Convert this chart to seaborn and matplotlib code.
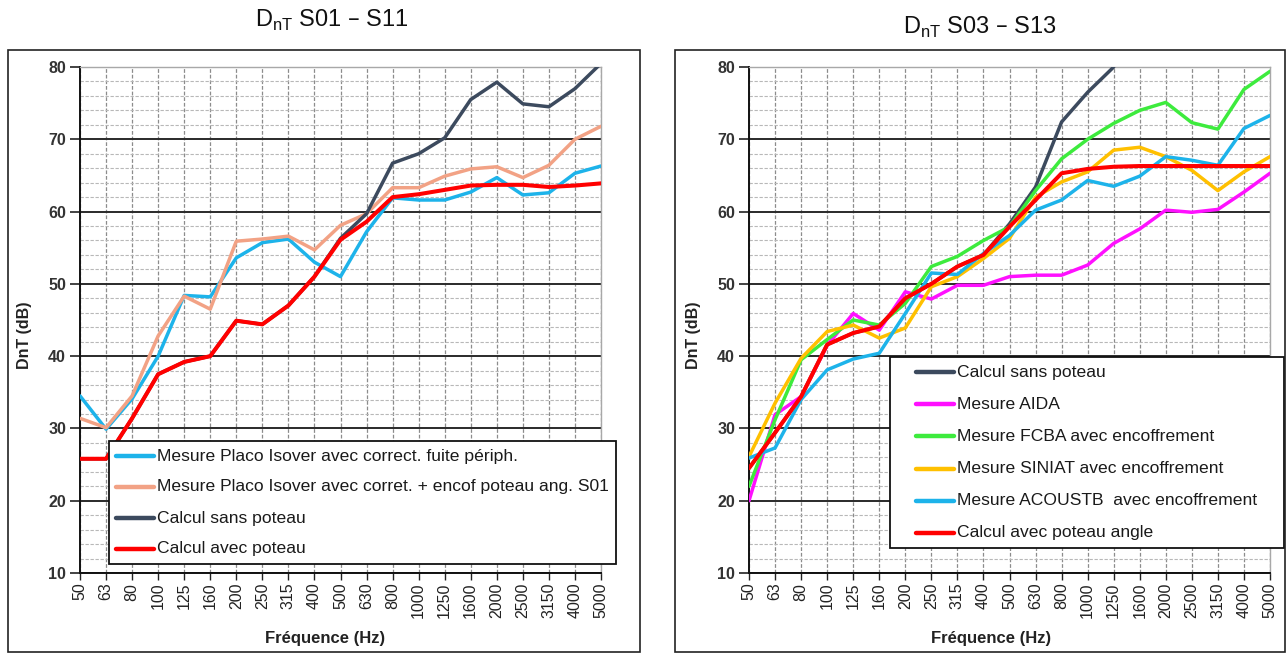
import numpy as np
import pandas as pd
import matplotlib
matplotlib.use("Agg")
import matplotlib.pyplot as plt
from matplotlib.patches import Rectangle
from matplotlib.lines import Line2D
from matplotlib.ticker import MultipleLocator
import seaborn as sns

# Third-octave band centre frequencies (Hz)
frequencies = ["50", "63", "80", "100", "125", "160", "200", "250", "315", "400", "500",
               "630", "800", "1000", "1250", "1600", "2000", "2500", "3150", "4000", "5000"]

# --- S01 - S11 ---------------------------------------------------------------
s01_placo_fuite = [34.5, 29.9, 34.1, 40.0, 48.4, 48.2, 53.6, 55.7, 56.2, 53.0, 51.0,
                   57.2, 61.9, 61.6, 61.6, 62.7, 64.7, 62.3, 62.6, 65.3, 66.3]
s01_placo_encof = [31.4, 30.1, 34.5, 42.8, 48.3, 46.5, 55.9, 56.2, 56.6, 54.7, 58.1,
                   59.7, 63.3, 63.3, 64.9, 65.9, 66.2, 64.7, 66.4, 70.0, 71.8]
s01_sans_poteau = [25.8, 25.8, 31.4, 37.5, 39.2, 40.0, 44.9, 44.4, 47.0, 51.0, 56.3,
                   59.7, 66.7, 68.0, 70.2, 75.5, 77.9, 74.9, 74.5, 77.0, 80.5]
s01_avec_poteau = [25.8, 25.8, 31.4, 37.5, 39.2, 40.0, 44.9, 44.4, 47.0, 51.0, 56.1,
                   58.6, 62.0, 62.4, 63.0, 63.6, 63.7, 63.7, 63.4, 63.6, 63.9]

s01_labels = ["Mesure Placo Isover avec correct. fuite périph.",
              "Mesure Placo Isover avec corret. + encof poteau ang. S01",
              "Calcul sans poteau",
              "Calcul avec poteau"]

# --- S03 - S13 ---------------------------------------------------------------
s03_sans_poteau = [24.5, 29.4, 34.4, 41.6, 43.2, 44.1, 48.0, 50.0, 52.4, 54.0, 58.3,
                   63.4, 72.4, 76.5, 80.0, np.nan, np.nan, np.nan, np.nan, np.nan, np.nan]
s03_aida = [20.0, 31.9, 34.4, 41.5, 45.9, 43.6, 48.9, 47.9, 49.8, 49.8, 51.0,
            51.2, 51.2, 52.6, 55.6, 57.6, 60.2, 59.9, 60.3, 62.7, 65.3]
s03_fcba = [22.0, 31.2, 39.5, 42.3, 45.0, 44.3, 47.3, 52.4, 53.8, 56.0, 57.9,
            62.9, 67.3, 70.0, 72.2, 74.0, 75.1, 72.3, 71.4, 76.9, 79.4]
s03_siniat = [26.1, 33.5, 39.7, 43.4, 44.3, 42.5, 43.9, 49.6, 51.0, 53.5, 56.3,
              62.0, 64.1, 65.5, 68.5, 68.9, 67.6, 65.7, 62.9, 65.5, 67.6]
s03_acoustb = [25.9, 27.3, 34.0, 38.1, 39.6, 40.4, 45.9, 51.5, 51.3, 54.2, 56.7,
               60.2, 61.6, 64.3, 63.5, 64.9, 67.6, 67.1, 66.4, 71.5, 73.3]
s03_avec_poteau = [24.5, 29.4, 34.4, 41.6, 43.2, 44.1, 48.0, 50.0, 52.4, 54.0, 57.9,
                   61.6, 65.3, 65.9, 66.2, 66.3, 66.3, 66.3, 66.3, 66.3, 66.3]

s03_labels = ["Calcul sans poteau",
              "Mesure AIDA",
              "Mesure FCBA avec encoffrement",
              "Mesure SINIAT avec encoffrement",
              "Mesure ACOUSTB  avec encoffrement",
              "Calcul avec poteau angle"]

CYAN, SALMON, SLATE, RED = "#1DB3EA", "#F2A285", "#3C4A5E", "#FF0000"
MAGENTA, GREEN, AMBER = "#FF10FF", "#3DEB3D", "#FFC000"

sns.set_theme(style="white")
plt.rcParams["font.family"] = ["Liberation Sans", "DejaVu Sans"]
plt.rcParams["axes.unicode_minus"] = False

W, H = 1287, 654
fig = plt.figure(figsize=(W / 100, H / 100), dpi=100)
fig.patch.set_facecolor("white")


def fx(px):
    return px / W


def fy(py):
    return 1 - py / H


def long_frame(series, labels):
    rows = []
    for vals, lab in zip(series, labels):
        for i, v in enumerate(vals):
            rows.append({"pos": i, "freq": frequencies[i], "DnT": v, "serie": lab})
    return pd.DataFrame(rows)


def style_axes(ax, xlabel_x):
    ax.set_xlim(0, len(frequencies) - 1)
    ax.set_ylim(10, 80)
    ax.set_facecolor("white")
    ax.set_xticks(range(len(frequencies)))
    ax.set_xticklabels(frequencies, rotation=90, fontsize=11.5, color="#222222")
    ax.yaxis.set_major_locator(MultipleLocator(10))
    ax.yaxis.set_minor_locator(MultipleLocator(2))
    for lab in ax.get_yticklabels():
        lab.set_fontweight("bold")
    ax.tick_params(axis="y", which="major", length=7, width=1.2, color="#222222",
                   labelsize=11.5, labelcolor="#333333", pad=3, left=True)
    ax.tick_params(axis="y", which="minor", length=0)
    ax.tick_params(axis="x", which="major", length=5, width=1.0, color="#222222",
                   pad=2, bottom=True)
    # grid: solid 10 dB lines, dashed 2 dB lines, dashed vertical band lines
    ax.grid(False)
    ax.yaxis.grid(True, which="major", color="#2a2a2a", linewidth=1.4, linestyle="-", zorder=1)
    ax.yaxis.grid(True, which="minor", color="#b8b8b8", linewidth=0.8,
                  linestyle=(0, (3, 1.5)), zorder=0.5)
    ax.xaxis.grid(True, which="major", color="#8c8c8c", linewidth=0.9,
                  linestyle=(0, (3, 1.5)), zorder=0.5)
    ax.set_axisbelow(True)
    for side in ("left", "bottom"):
        ax.spines[side].set_color("#111111")
        ax.spines[side].set_linewidth(1.4)
    for side in ("top", "right"):
        ax.spines[side].set_color("#a8a8a8")
        ax.spines[side].set_linewidth(1.0)
    ax.set_xlabel("Fréquence (Hz)", fontsize=12, fontweight="bold", color="#222222")
    ax.set_ylabel("DnT (dB)", fontsize=11.5, fontweight="bold", color="#222222")
    ax.xaxis.set_label_coords(xlabel_x, -0.115)
    ax.yaxis.set_label_coords(-0.093, 0.47)


def draw_panel(ax, series, labels, colors, widths):
    df = long_frame(series, labels)
    for lab, col, lw in zip(labels, colors, widths):
        sns.lineplot(data=df[df["serie"] == lab], x="pos", y="DnT", color=col,
                     linewidth=lw, ax=ax, legend=False, zorder=3,
                     solid_joinstyle="round")


def add_legend(ax, labels, colors, box, text_x, first_y, step):
    x0, y0, x1, y1 = box
    ax.add_patch(Rectangle((fx(x0), fy(y1)), fx(x1) - fx(x0), fy(y0) - fy(y1),
                           transform=fig.transFigure, facecolor="white",
                           edgecolor="#111111", linewidth=1.3, zorder=10, clip_on=False))
    for k, (lab, col) in enumerate(zip(labels, colors)):
        yy = first_y + k * step
        ax.add_line(Line2D([fx(text_x - 41), fx(text_x - 3)], [fy(yy), fy(yy)],
                           transform=fig.transFigure, color=col, linewidth=3.2,
                           solid_capstyle="round", zorder=11, clip_on=False))
        ax.text(fx(text_x), fy(yy), lab, transform=fig.transFigure, fontsize=12.6,
                color="#1a1a1a", va="center", ha="left", zorder=12, clip_on=False)


# panel frames
for (x0, x1) in [(8, 640), (675, 1285)]:
    fig.add_artist(Rectangle((fx(x0), fy(652)), fx(x1) - fx(x0), fy(50) - fy(652),
                             transform=fig.transFigure, facecolor="none",
                             edgecolor="#222222", linewidth=1.2))

ax1 = fig.add_axes([fx(80), fy(573), fx(601) - fx(80), fy(67) - fy(573)])
ax2 = fig.add_axes([fx(749), fy(573), fx(1270) - fx(749), fy(67) - fy(573)])

s01 = [s01_placo_fuite, s01_placo_encof, s01_sans_poteau, s01_avec_poteau]
s01_colors = [CYAN, SALMON, SLATE, RED]
s01_widths = [2.5, 2.5, 2.5, 2.9]
draw_panel(ax1, s01, s01_labels, s01_colors, s01_widths)
style_axes(ax1, 0.47)
add_legend(ax1, s01_labels, s01_colors, (109, 441, 616, 564), 157, 456, 31)

s03 = [s03_sans_poteau, s03_aida, s03_fcba, s03_siniat, s03_acoustb, s03_avec_poteau]
s03_colors = [SLATE, MAGENTA, GREEN, AMBER, CYAN, RED]
s03_widths = [2.5, 2.5, 2.5, 2.5, 2.5, 2.9]
draw_panel(ax2, s03, s03_labels, s03_colors, s03_widths)
style_axes(ax2, 0.465)
add_legend(ax2, s03_labels, s03_colors, (890, 357, 1284, 548), 957, 372, 32.2)

fig.text(fx(332), fy(20), r"D$_{\mathregular{nT}}$ S01 – S11", fontsize=17,
         ha="center", va="center", color="#111111")
fig.text(fx(980), fy(27), r"D$_{\mathregular{nT}}$ S03 – S13", fontsize=17,
         ha="center", va="center", color="#111111")

fig.savefig("out.png", dpi=100, facecolor="white")
